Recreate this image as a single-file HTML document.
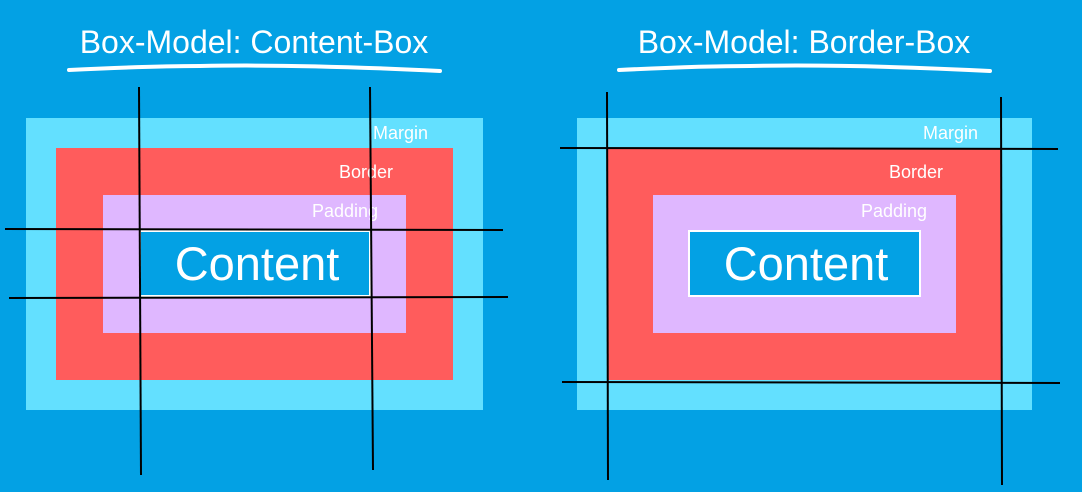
<!DOCTYPE html>
<html><head><meta charset="utf-8"><style>
html,body{margin:0;padding:0;background:#03a1e4;}
svg{display:block}
text{font-family:"Liberation Sans","DejaVu Sans",sans-serif;fill:#fff}
</style></head><body>
<svg width="1082" height="492" viewBox="0 0 1082 492" xmlns="http://www.w3.org/2000/svg">
<rect width="1082" height="492" fill="#03a1e4"/>
<text x="254" y="53" font-size="32" text-anchor="middle">Box-Model: Content-Box</text>
<text x="804" y="53" font-size="32" text-anchor="middle">Box-Model: Border-Box</text>
<path d="M69 70 Q150 66 200 66 Q300 64 440 71" stroke="#fff" stroke-width="4" fill="none" stroke-linecap="round"/>
<path d="M619 70 Q700 66 750 66 Q850 64 990 71" stroke="#fff" stroke-width="4" fill="none" stroke-linecap="round"/>

<!-- left -->
<rect x="26" y="118" width="457" height="292" fill="#63e0ff"/>
<rect x="56" y="148" width="397" height="232" fill="#ff5c5c"/>
<rect x="103" y="195" width="303" height="138" fill="#dfb7ff"/>
<rect x="140" y="231" width="230" height="65" fill="#03a1e4" stroke="#fff" stroke-width="2"/>
<text x="428" y="139" font-size="18" text-anchor="end">Margin</text>
<text x="393" y="178" font-size="18" text-anchor="end">Border</text>
<text x="378" y="217" font-size="18" text-anchor="end">Padding</text>
<text x="257" y="280" font-size="47" text-anchor="middle">Content</text>
<g stroke="#000" stroke-width="2">
<line x1="139" y1="87" x2="141" y2="475"/>
<line x1="370" y1="87" x2="373" y2="470"/>
<line x1="5" y1="229" x2="503" y2="230"/>
<line x1="9" y1="298" x2="508" y2="297"/>
</g>

<!-- right -->
<rect x="577" y="118" width="455" height="292" fill="#63e0ff"/>
<rect x="607" y="148" width="395" height="232" fill="#ff5c5c"/>
<rect x="653" y="195" width="303" height="138" fill="#dfb7ff"/>
<rect x="689" y="231" width="231" height="65" fill="#03a1e4" stroke="#fff" stroke-width="2"/>
<text x="978" y="139" font-size="18" text-anchor="end">Margin</text>
<text x="943" y="178" font-size="18" text-anchor="end">Border</text>
<text x="927" y="217" font-size="18" text-anchor="end">Padding</text>
<text x="806" y="280" font-size="47" text-anchor="middle">Content</text>
<g stroke="#000" stroke-width="2">
<line x1="607" y1="92" x2="608" y2="480"/>
<line x1="1001" y1="97" x2="1002" y2="485"/>
<line x1="560" y1="148" x2="1058" y2="149"/>
<line x1="562" y1="382" x2="1060" y2="383"/>
</g>
</svg>
</body></html>
